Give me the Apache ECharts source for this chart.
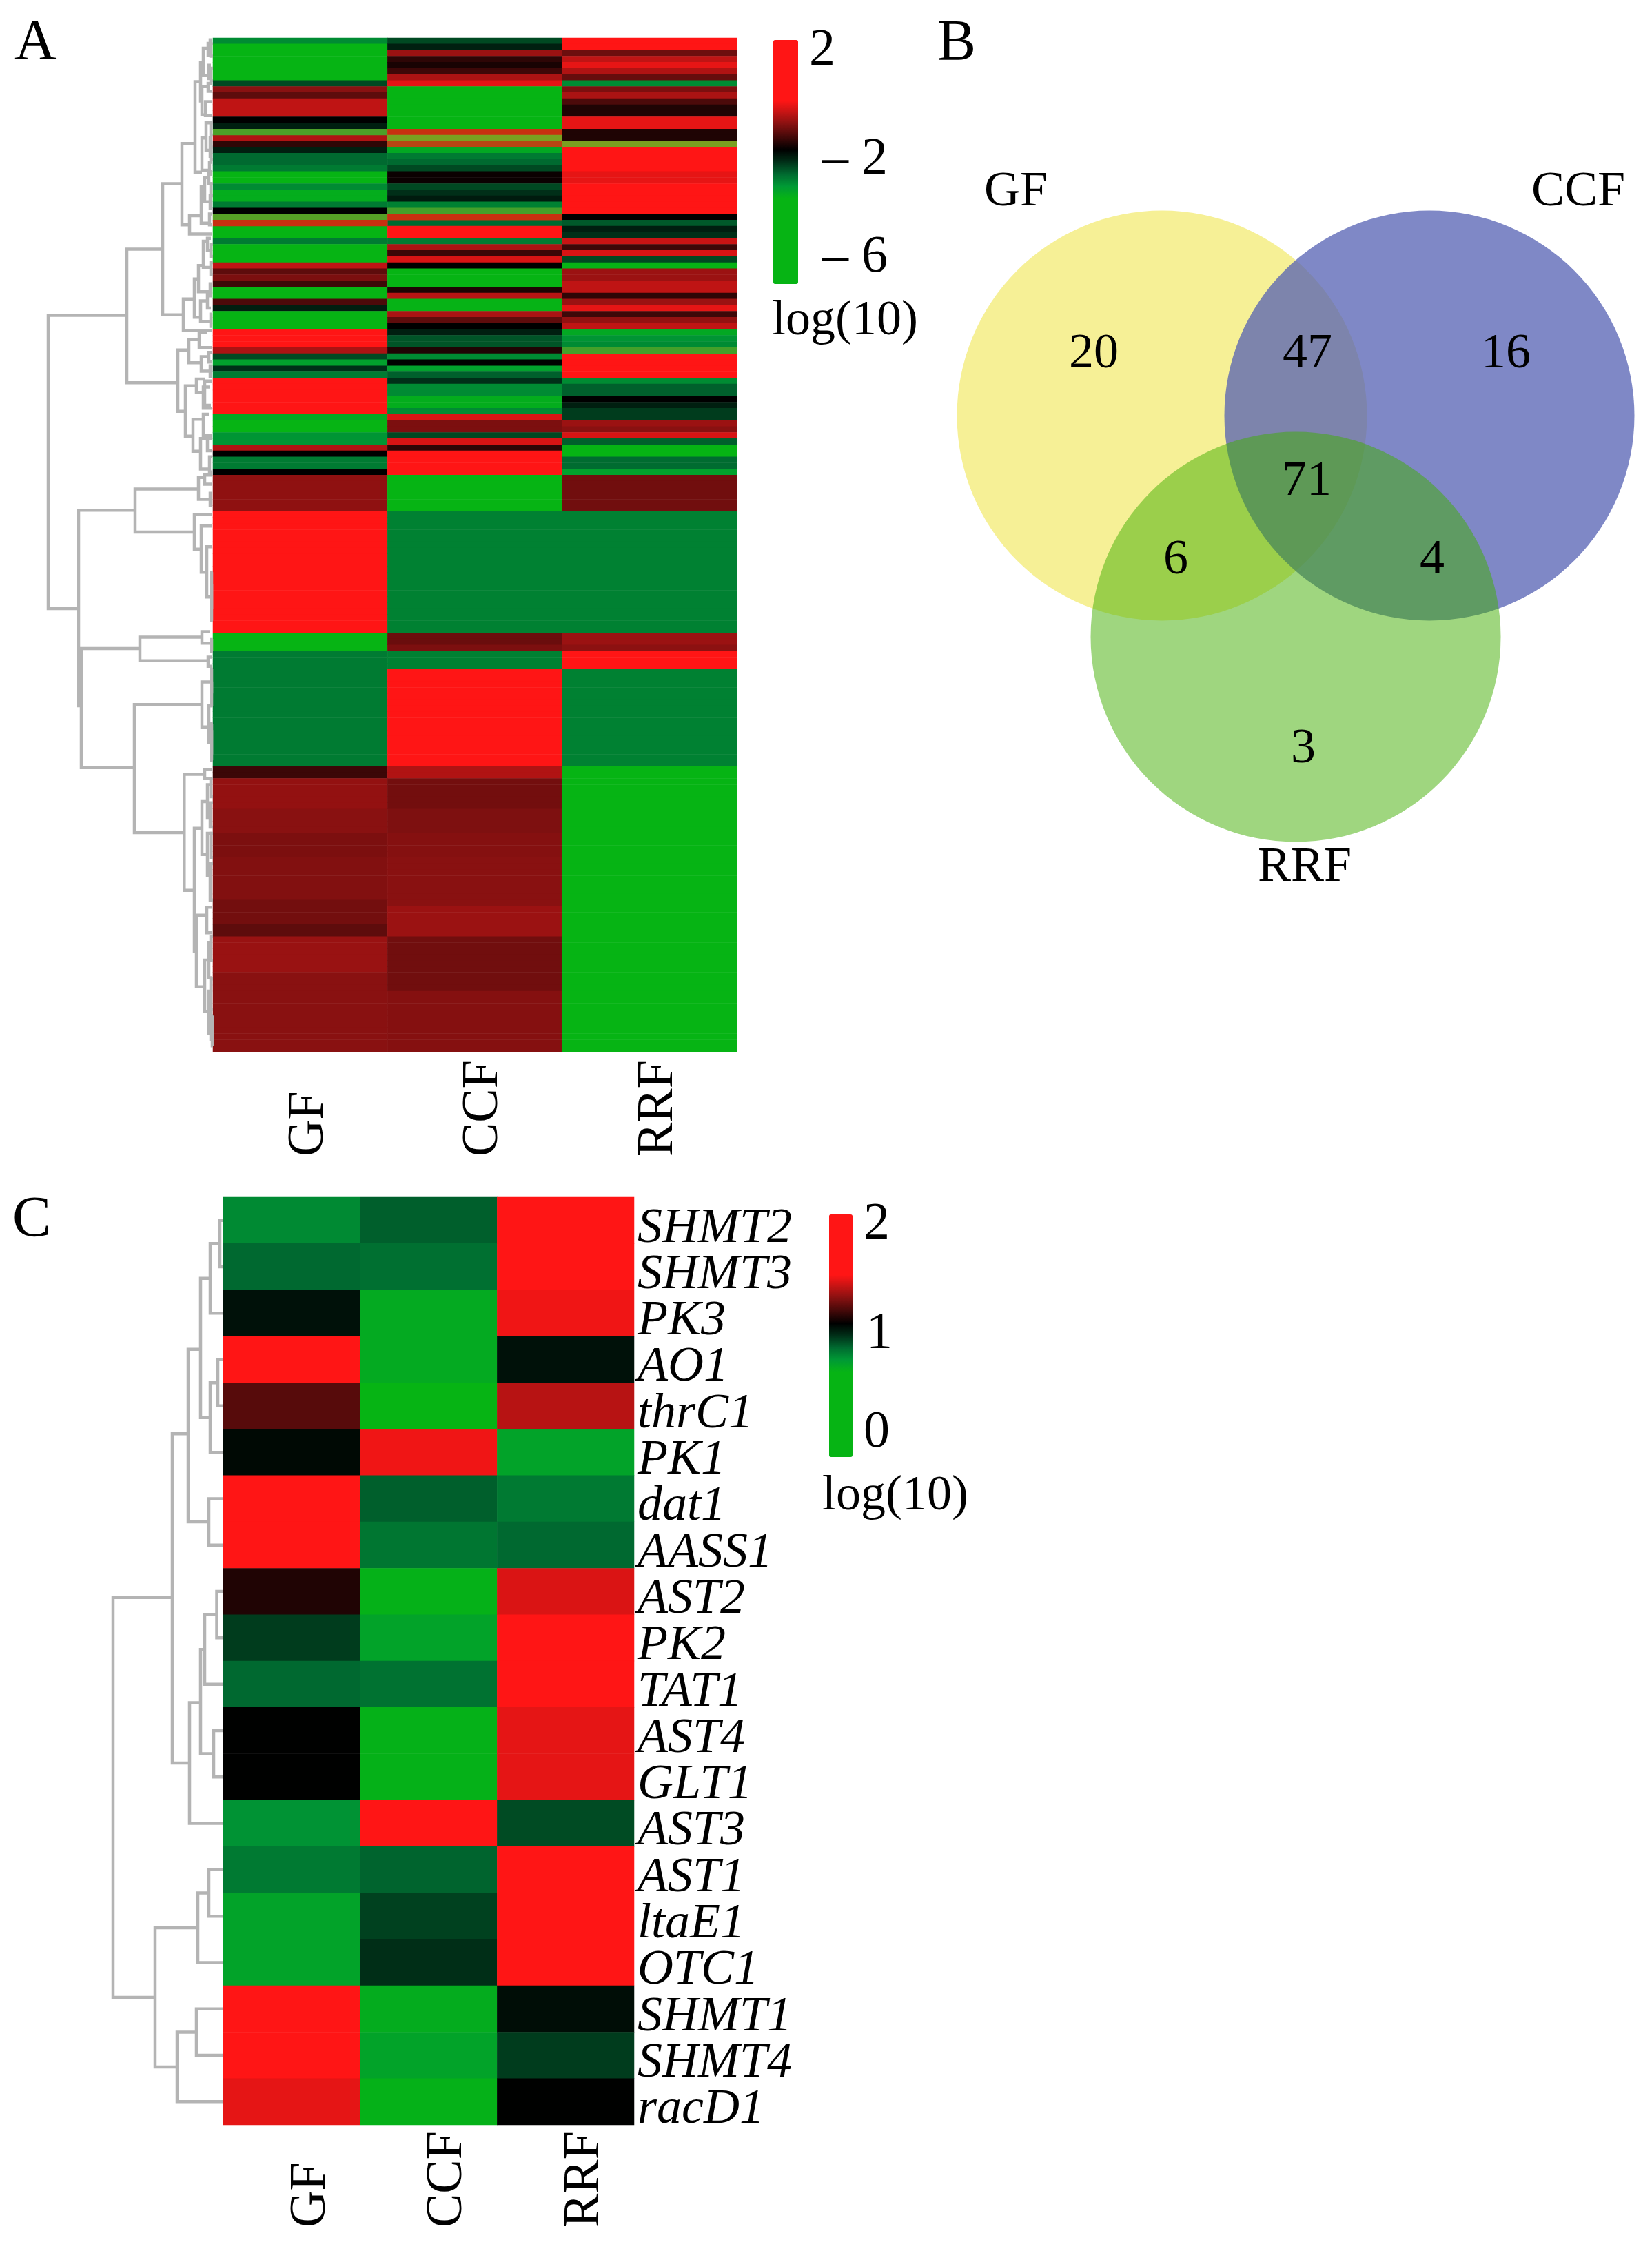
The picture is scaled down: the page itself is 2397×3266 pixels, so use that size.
<!DOCTYPE html>
<html><head><meta charset="utf-8">
<style>html,body{margin:0;padding:0;background:#fff}#c{width:2397px;height:3266px}</style>
<script src="https://cdn.jsdelivr.net/npm/echarts@6/dist/echarts.min.js"></script>
</head><body><div id="c"></div>
<script>
const groups = ['GF','CCF','RRF'];

// Panel A: 167 genes, log(10) colour value per row (null = blended transition cell, see below)
const geneGF = [
-3.0,-5,-5,-5,-5,-5,-5,-2.41,-.72,-1.04,
-.32,-.32,-.32,-1.73,-2.04,null,-.43,-1.39,-2.04,-2.68,
-2.68,-2.84,-4,-4,-3.0,-3.5,-3.5,-2.84,-1.73,null,
null,-4,-4,-2.84,-3.8,-3.8,-3.8,-.32,-1.04,-.82,
-1.28,-5,-5,-1.17,-2.04,-5,-5,-5,2,2,
2,-.48,-2.41,-3.27,-2.2,-2.84,2,2,2,2,
2,2,-3.41,-5,-5,-3.1,-3.1,-.43,-1.73,-2.84,
-2.84,-1.73,-.68,-.68,-.68,-.68,-.68,-.68,2,2,
2,2,2,2,2,2,2,2,2,2,
2,2,2,2,2,2,2,2,-5,-5,
-5,-2.84,-2.84,-2.84,-2.84,-2.84,-2.84,-2.84,-2.84,-2.84,
-2.84,-2.84,-2.84,-2.84,-2.84,-2.84,-2.84,-2.84,-2.84,-2.84,
-1.3,-1.3,-.65,-.65,-.65,-.65,-.65,-.72,-.72,-.72,
-.72,-.82,-.82,-.82,-.82,-.77,-.77,-.77,-.77,-.77,
-.77,-.77,-.88,-.88,-.88,-.88,-1.04,-1.04,-.6,-.6,
-.6,-.6,-.6,-.6,-.72,-.72,-.72,-.72,-.72,-.72,
-.72,-.72,-.72,-.72,-.72,-.72,-.72];
const geneCCF = [
-2.41,-2.04,-.59,-1.39,-1.55,-1.28,-.48,-.03,-5,-5,
-5,-5,-5,-5,-5,null,null,null,-3.41,-2.84,
-2.68,-2.41,-1.65,-1.65,-2.41,-2.2,-2.0,-2.9,null,null,
-2.68,2,2,-2.84,-.48,-1.3,-.14,-1.73,-5,-5,
-5,-1.5,-.37,-3.6,-3.6,-.48,-1.04,-1.73,-2.04,-2.5,
-2.5,-1.5,-3.0,-1.73,-3.27,-2.6,-2.2,-3.0,-3.0,-3.5,
-3.5,-3.0,-.14,-.82,-.82,-2.41,-.14,-1.39,2,2,
2,2,-5,-5,-5,-5,-5,-5,-2.9,-2.9,
-2.9,-2.9,-2.9,-2.9,-2.9,-2.9,-2.9,-2.9,-2.9,-2.9,
-2.9,-2.9,-2.9,-2.9,-2.9,-2.9,-2.9,-2.9,-.95,-.95,
-.82,-2.9,-2.9,-2.9,2,2,2,2,2,2,
2,2,2,2,2,2,2,2,2,2,
-.43,-.43,-.88,-.88,-.88,-.88,-.88,-.8,-.8,-.8,
-.8,-.75,-.75,-.75,-.75,-.72,-.72,-.72,-.72,-.72,
-.72,-.72,-.72,-.59,-.59,-.59,-.59,-.59,-.9,-.9,
-.9,-.9,-.9,-.9,-.9,-.9,-.9,-.75,-.75,-.75,
-.75,-.75,-.75,-.75,-.75,-.75,-.75];
const geneRRF = [
2,2,-.93,-.32,-.03,-.43,-.98,-3.0,-.82,-.48,
-1.17,-1.5,-1.5,-.03,-.03,-1.5,-1.5,null,2,2,
2,2,-.03,-.03,2,2,2,2,2,-1.73,
-2.55,-2.04,-2.2,-.25,-1.28,-.14,-2.41,-3.6,-.59,-.59,
-.32,-.32,-1.39,-.59,-.03,-1.28,-.65,-.32,-3.41,-3.1,
-3.0,null,2,2,2,2,-3.0,-2.6,-2.6,-1.73,
-2.04,-2.3,-2.3,-.59,-.72,-.14,-2.6,-4,-4,-2.7,
-2.7,-3.27,-.9,-.9,-.9,-.9,-.9,-.9,-2.9,-2.9,
-2.9,-2.9,-2.9,-2.9,-2.9,-2.9,-2.9,-2.9,-2.9,-2.9,
-2.9,-2.9,-2.9,-2.9,-2.9,-2.9,-2.9,-2.9,-.59,-.59,
-.7,2,2,2,-2.9,-2.9,-2.9,-2.9,-2.9,-2.9,
-2.9,-2.9,-2.9,-2.9,-2.9,-2.9,-2.9,-2.9,-2.9,-2.9,
-5,-5,-5,-5,-5,-5,-5,-5,-5,-5,
-5,-5,-5,-5,-5,-5,-5,-5,-5,-5,
-5,-5,-5,-5,-5,-5,-5,-5,-5,-5,
-5,-5,-5,-5,-5,-5,-5,-5,-5,-5,
-5,-5,-5,-5,-5,-5,-5];

// Cells where red meets green and the picture shows olive/orange: [group, row, mix 0 green..1 orange]
const blendCells = [
[0,15,.25],[0,29,.3],[0,30,1],
[1,15,1],[1,16,.5],[1,17,.9],[1,28,.2],[1,29,1],
[2,17,.5],[2,51,.2]];

// Panel A dendrogram links: [rowTop,rowBottom,heightJoin,heightTopChild,heightBottomChild]
const linksA = [
[45.7,94,239,125,195],[34.8,56.8,125,73,51],[24,45.6,73,45,43],[17.4,30.8,45,26,34],
[29.3,32.3,34,17,1],[24.5,30.5,17,12,5],[23,27,12,6,4],[22,24,6,2,2],[26,28,4,1,1],[29,30.8,5,1,1],
[7.2,22.1,26,18,16],[4,10.4,18,14,16],[1.7,6.2,14,7,6],[.9,2.8,7,4,3],[4.5,6.7,6,3,2],[.3,1.5,4,1,1],
[8,12.7,16,7,11],[7.5,8.8,7,1,1],[10.5,12.8,11,2,2],[16.5,21.8,16,10,5],[14,18.5,10,4,5],[20.5,22.5,5,1,1],[16.5,19.5,4,1,1],
[43,48.2,43,27,1],[39.7,46,27,21,18],[37.5,41.8,21,14,4],[33.5,37.8,14,8,3],[33,35,8,3,2],[40.5,42.5,4,1,1],
[43.3,46.7,18,8,3],[42,44.5,8,3,3],[45.5,47.5,3,1,1],
[51.4,61.5,51,35,40],[49.7,53.5,35,20,17],[48.5,51,20,8,2],[52.5,54.9,17,6,4],[51.8,53.4,6,1,1],[54,55.8,4,1,1],
[57.3,65.6,40,24,29],[56.2,58.4,24,12,14],[56.5,60.5,12,2,3],[57.5,61,14,4,2],
[62.8,68.1,29,14,18],[62,65.5,14,6,2],[66,71,18,8,5],[66,68,8,2,2],[69,71.5,5,1,1],
[77.8,110,195,113,191],[74.3,81.4,113,21,27],[72.4,76,21,12,4],[72,73.5,12,2,2],[75,77,4,1,1],
[78.5,84.2,27,1,17],[80.4,88,17,1,9],[83.8,92.1,9,1,2],[88,96,2,0,0],
[100.6,120.2,191,106,114],[98.7,102.6,106,16,7],[97.8,99.7,16,4,1],[99,101,2,0,0],[102,103.5,7,1,1],
[109.8,130.9,114,16,41.7],[106.1,113.5,16,2,6],[110,116,6,2,2],[113,118,2,0,0],[104,108,2,0,0],
[121.3,140.4,41.7,12,27],[120.5,122,12,2,2],[130.2,150.4,27,16,24],[125.8,134.5,16,8,8],[123,128.5,8,2,2],[131,138,8,2,1.5],
[144.5,156.3,24,9,12],[143.2,147.4,9,2,2],[151.9,160.4,12,6,6],[149,154.8,6,1.5,1.5],[157,164,6,1,1],[161,166,1,0,0],
[1,3,3,0,0],[5,7,3,0,0],[14,16,3,0,0],[18,20,3,0,0],[24,26,3,0,0],[34,36,3,0,0],[37,39,3,0,0],
[122,125,3,0,0],[126,130,4,0,0],[131,135,3,0,0],[136,142,4,0,0],[148,152,3,0,0],[155,160,3,0,0],[160,165,3,0,0],
[90,94,2,0,0],[106,110,2,0,0],[114,119,2,0,0]];

// Panel C
const enzymes = ['SHMT2','SHMT3','PK3','AO1','thrC1','PK1','dat1','AASS1','AST2','PK2','TAT1','AST4','GLT1','AST3','AST1','ltaE1','OTC1','SHMT1','SHMT4','racD1'];
const enzGF  = [.71,.79,.98,2,1.18,1.0,2,2,1.08,.88,.79,1.02,1.02,.69,.75,.63,.63,2,2,1.44];
const enzCCF = [.81,.775,.6,.6,.3,1.46,.81,.76,.57,.63,.77,.57,.57,2,.8,.87,.91,.59,.63,.57];
const enzRRF = [2,2,1.46,.98,1.355,.63,.75,.79,1.42,2,2,1.44,1.44,.85,2,2,2,.99,.88,1.02];
const linksC = [
[.5,1.5,5,0,0],[1,2.5,19,5,0],[3.5,4.5,8,0,0],[4,5.5,19,8,0],[1.75,4.75,33,19,19],[6.5,7.5,21,0,0],[3.28,7,51,33,21],
[8.5,9.5,9.5,0,0],[9,10.5,27,9.5,0],[11.5,12.5,14,0,0],[9.75,12,33,27,14],[10.9,13.5,49,33,0],[5.1,12.2,74,51,49],
[14.5,15.5,21,0,0],[15,16.5,37,21,0],[17.5,18.5,39,0,0],[18,19.5,67,39,0],[15.75,18.75,99,37,67],[8.63,17.25,160,74,99]];

// Panel B Venn
const vennSets = ['GF','CCF','RRF'];
const vennX = [306,694,500];
const vennY = [333,333,654];
const vennCounts = ['20','47','16','71','6','4','3'];
const countX = [207,517,805,516,326,698,511];
const countY = [244,244,244,429,543,543,817];
const setLabelX = [94,910,513];
const setLabelY = [9,9,989];

const SERIF = '"Liberation Serif"', INK = '#000000';
const ramp = ['#06b414','#06b414','#06b414','#06b414','#06b414','#06b414','#06b414','#06b414',
  '#009a35','#006a30','#003018','#000000','#400808','#801010','#c01414','#ff1515',
  '#ff1515','#ff1515','#ff1515','#ff1515','#ff1515'];
const hidden = {show:false};
function heatX(grid, margin, lineH){
  return {type:'category',gridIndex:grid,data:groups,axisLine:hidden,axisTick:hidden,splitLine:hidden,
    axisLabel:{interval:0,rotate:90,align:'left',verticalAlign:'top',lineHeight:lineH,margin:margin,fontFamily:SERIF,fontSize:74,color:INK}};
}
function cells(cols){
  const out=[];
  cols.forEach((col,c)=>col.forEach((v,r)=>{ if(v!==null) out.push([c,r,v]); }));
  return out;
}
function dendro(links,xi,width){
  return {type:'custom',coordinateSystem:'cartesian2d',xAxisIndex:xi,yAxisIndex:xi,clip:false,silent:true,
    encode:{x:[2,3,4],y:[0,1]},data:links,
    renderItem:(p,api)=>{
      const rt=api.value(0),rb=api.value(1),j=api.value(2),ht=api.value(3),hb=api.value(4);
      const pts=[[ht,rt],[j,rt],[j,rb],[hb,rb]].map(q=>api.coord(q));
      return {type:'polyline',shape:{points:pts},style:{stroke:'#b4b4b4',lineWidth:width,fill:null}};
    }};
}
function txt(t,x,y,opt){
  return {type:'text',x:x,y:y,style:Object.assign({text:t,font:'72px '+SERIF,fill:INK,textAlign:'left',textVerticalAlign:'middle'},opt||{})};
}
const rows = geneGF.map((_,i)=>i);
const option = {
  animation:false,backgroundColor:'#fff',
  grid:[
    {left:309,top:55,width:760,height:1471},
    {left:60,top:55,width:249,height:1471},
    {left:324,top:1737,width:596,height:1346},
    {left:150,top:1737,width:174,height:1346},
    {left:1380,top:270,width:1000,height:1000}
  ],
  xAxis:[
    heatX(0,152,26),
    {type:'value',gridIndex:1,inverse:true,min:0,max:249,show:false},
    heatX(2,149,56),
    {type:'value',gridIndex:3,inverse:true,min:0,max:174,show:false},
    {type:'value',gridIndex:4,min:0,max:1000,show:false}
  ],
  yAxis:[
    {type:'category',gridIndex:0,inverse:true,data:rows,show:false},
    {type:'value',gridIndex:1,inverse:true,min:0,max:167,show:false},
    {type:'category',gridIndex:2,inverse:true,data:enzymes,position:'right',axisLine:hidden,axisTick:hidden,splitLine:hidden,
      axisLabel:{interval:0,margin:5,verticalAlign:'top',lineHeight:24,fontFamily:SERIF,fontStyle:'italic',fontSize:72,color:INK}},
    {type:'value',gridIndex:3,inverse:true,min:0,max:20,show:false},
    {type:'value',gridIndex:4,inverse:true,min:0,max:1000,show:false}
  ],
  visualMap:[
    {type:'continuous',seriesIndex:0,min:-6.93,max:2.52,left:1122,top:58,itemWidth:36,itemHeight:354,padding:0,calculable:false,hoverLink:false,inRange:{color:ramp}},
    {type:'continuous',seriesIndex:3,min:-.26,max:2.07,left:1203,top:1762,itemWidth:34,itemHeight:352,padding:0,calculable:false,hoverLink:false,inRange:{color:ramp}},
    {type:'continuous',seriesIndex:1,min:0,max:1,show:false,inRange:{color:['#20a030','#7aa020','#c83010']}}
  ],
  series:[
    {type:'heatmap',xAxisIndex:0,yAxisIndex:0,progressive:0,data:cells([geneGF,geneCCF,geneRRF])},
    {type:'heatmap',xAxisIndex:0,yAxisIndex:0,progressive:0,data:blendCells},
    dendro(linksA,1,4.5),
    {type:'heatmap',xAxisIndex:2,yAxisIndex:2,progressive:0,data:cells([enzGF,enzCCF,enzRRF])},
    dendro(linksC,3,4.5),
    {type:'scatter',xAxisIndex:4,yAxisIndex:4,clip:false,silent:true,symbolSize:595,
      data:vennSets.map((s,i)=>({name:s,value:[vennX[i],vennY[i]],
        itemStyle:[{color:'#f6f096',opacity:1},{color:'#5460b3',opacity:.75},{color:'#3fad00',opacity:.5}][i]}))},
    {type:'scatter',xAxisIndex:4,yAxisIndex:4,clip:false,silent:true,symbolSize:0,z:5,itemStyle:{opacity:1},
      data:vennCounts.map((c,i)=>({name:c,value:[countX[i],countY[i]]})).concat(
           vennSets.map((s,i)=>({name:s,value:[setLabelX[i],setLabelY[i]]}))),
      label:{show:true,position:'inside',formatter:'{b}',fontFamily:SERIF,fontSize:72,color:INK,opacity:1}}
  ],
  graphic:[
    txt('A',21,64,{font:'84px '+SERIF}),
    txt('B',1360,65,{font:'84px '+SERIF}),
    txt('C',18,1772,{font:'84px '+SERIF}),
    txt('2',1174,74,{font:'76px '+SERIF}),
    txt('\u2013 2',1193,232,{font:'76px '+SERIF}),
    txt('\u2013 6',1193,374,{font:'76px '+SERIF}),
    txt('log(10)',1120,466),
    txt('2',1253,1777,{font:'76px '+SERIF}),
    txt('1',1257,1936,{font:'76px '+SERIF}),
    txt('0',1253,2079,{font:'76px '+SERIF}),
    txt('log(10)',1193,2171)
  ]
};
echarts.init(document.getElementById('c'),null,{renderer:'canvas'}).setOption(option);
</script></body></html>
